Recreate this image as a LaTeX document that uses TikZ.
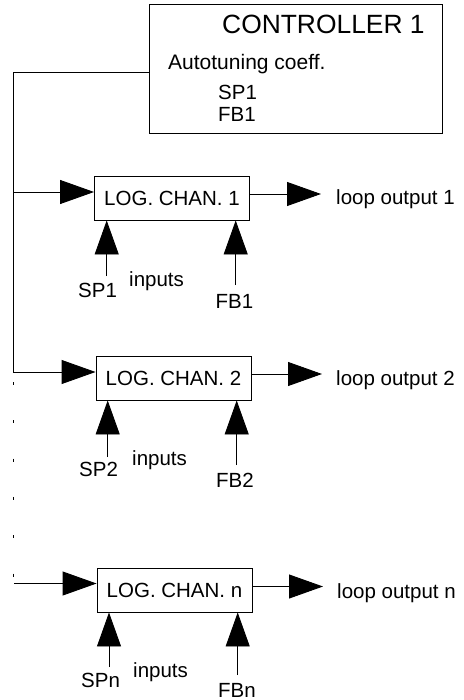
\documentclass[tikz,border=0pt]{standalone}
\usepackage{fontspec}
\setmainfont{Liberation Sans}
\usetikzlibrary{arrows.meta}
\begin{document}
\begin{tikzpicture}[x=1pt,y=-1pt,
  wire/.style={line width=0.9pt},
  arr/.style={line width=0.9pt,-{Triangle[length=34pt,width=24pt]}},
  chan/.style={draw,line width=0.9pt,minimum width=155pt,minimum height=44pt,inner sep=0pt,font=\fontsize{20.5}{24}\selectfont},
  lbl/.style={anchor=base west,inner sep=0pt,font=\fontsize{20.5}{24}\selectfont}]
\useasboundingbox (0,0) rectangle (463,700);
% controller
\node[draw,line width=0.9pt,minimum width=293pt,minimum height=129pt,inner sep=0pt] (ctrl) at (295.5,68.5) {};
\node[anchor=base west,inner sep=0pt,font=\fontsize{26.4}{30}\selectfont] (ctitle) at (222,34) {CONTROLLER 1};
\node[lbl,font=\fontsize{21}{24}\selectfont] (auto) at (168,70) {Autotuning coeff.};
\node[lbl] (csp) at (218,100) {SP1};
\node[lbl] (cfb) at (218,121.5) {FB1};
% channels
\node[chan] (ch1) at (172,198) {LOG. CHAN. 1};
\node[chan] (ch2) at (173.5,378) {LOG. CHAN. 2};
\node[chan] (chn) at (174.5,590) {LOG. CHAN. n};
% left bus
\coordinate (c0) at (13,72);
\coordinate (b1) at (13,192);
\coordinate (b2) at (13,372);
\coordinate (d0) at (13,382);
\coordinate (bn) at (14,583.5);
\draw[wire] (ctrl.west |- c0) -- (c0) -- (b2);
\draw[arr] (b1) -- (b1 -| ch1.west);
\draw[arr] (b2) -- (b2 -| ch2.west);
\draw[arr] (bn) -- (bn -| chn.west);
\draw[line width=0.9pt,dash pattern=on 3pt off 35.3pt] (d0) -- (13,580);
% outputs
\coordinate (o1) at (321,194);
\coordinate (o2) at (322,374);
\coordinate (on) at (323,586.5);
\draw[arr] (o1 -| ch1.east) -- (o1);
\draw[arr] (o2 -| ch2.east) -- (o2);
\draw[arr] (on -| chn.east) -- (on);
\node[lbl] (lo1) at (336,205) {loop output 1};
\node[lbl] (lo2) at (336,385.5) {loop output 2};
\node[lbl] (lon) at (337,598.5) {loop output n};
% inputs channel 1
\coordinate (s1) at (106.7,276);
\coordinate (f1) at (235.7,285);
\draw[arr] (s1) -- (s1 |- ch1.south);
\draw[arr] (f1) -- (f1 |- ch1.south);
\node[lbl] (sp1) at (78,297.5) {SP1};
\node[lbl] (in1) at (129,286) {inputs};
\node[lbl] (fb1) at (215.5,308.5) {FB1};
% inputs channel 2
\coordinate (s2) at (107.7,457);
\coordinate (f2) at (236.7,465);
\draw[arr] (s2) -- (s2 |- ch2.south);
\draw[arr] (f2) -- (f2 |- ch2.south);
\node[lbl] (sp2) at (79,476.7) {SP2};
\node[lbl] (in2) at (132,465) {inputs};
\node[lbl] (fb2) at (216,487.5) {FB2};
% inputs channel n
\coordinate (sn) at (109,667);
\coordinate (fn) at (237.7,675);
\draw[arr] (sn) -- (sn |- chn.south);
\draw[arr] (fn) -- (fn |- chn.south);
\node[lbl] (spn) at (81,687.7) {SPn};
\node[lbl] (inn) at (133,677.5) {inputs};
\node[lbl] (fbn) at (218,697) {FBn};
\end{tikzpicture}
\end{document}
